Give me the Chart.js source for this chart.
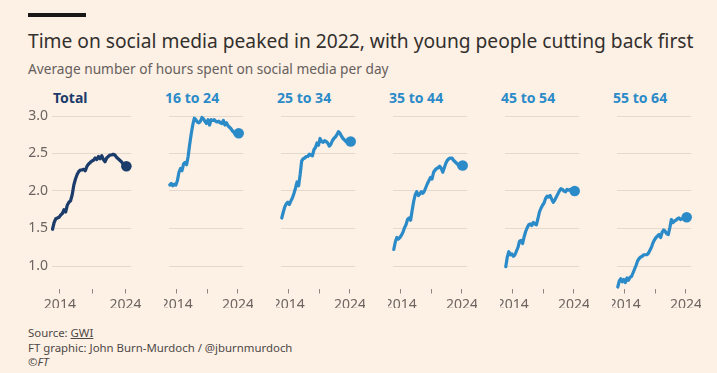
<!DOCTYPE html>
<html>
<head>
<meta charset="utf-8">
<script src="https://cdn.jsdelivr.net/npm/chart.js@4.4.1/dist/chart.umd.min.js"></script>
<style>
  body { margin: 0; width: 717px; height: 373px; overflow: hidden; background: #fdf0e5; font-family: 'Noto Sans', sans-serif; color: #33302e; position: relative; }
  .abs { position: absolute; white-space: nowrap; line-height: 1; }
  .bar { left: 28px; top: 13px; width: 58px; height: 4px; background: #1a1817; }
  .title { left: 28px; top: 31px; font-size: 19.2px; color: #33302e; }
  .sub { left: 28px; top: 62px; font-size: 13.7px; color: #66605c; }
  .ptitle { top: 91px; font-size: 14px; font-weight: 700; }
  .foot { left: 28px; font-size: 11.4px; color: #4d4845; }
  canvas { position: absolute; }
</style>
</head>
<body>
<div class="abs bar"></div>
<div class="abs title">Time on social media peaked in 2022, with young people cutting back first</div>
<div class="abs sub">Average number of hours spent on social media per day</div>
<div class="abs foot" style="top:327px">Source: <u>GWI</u></div>
<div class="abs foot" style="top:342px">FT graphic: John Burn-Murdoch / @jburnmurdoch</div>
<div class="abs foot" style="top:356px">©<i>FT</i></div>
<script>
// quarterly readings, Q4 2012 .. Q1 2024 (mid-quarter positions)
const quarters = [];
for (let k = 0; k < 46; k++) quarters.push(2012.875 + k * 0.25);

const groups = ['Total', '16 to 24', '25 to 34', '35 to 44', '45 to 54', '55 to 64'];

const total = [1.49,1.58,1.63,1.64,1.65,1.68,1.70,1.75,1.72,1.81,1.85,1.87,1.95,2.08,2.16,2.22,
  2.26,2.28,2.28,2.29,2.27,2.33,2.36,2.38,2.40,2.41,2.44,2.42,2.46,2.43,2.47,2.42,
  2.39,2.44,2.46,2.48,2.48,2.49,2.48,2.45,2.43,2.41,2.39,2.36,2.33,2.33];
const age16to24 = [2.08,2.10,2.07,2.09,2.08,2.14,2.25,2.30,2.27,2.36,2.38,2.35,2.46,2.62,2.76,2.88,
  2.97,2.95,2.92,2.91,2.93,2.98,2.96,2.93,2.90,2.95,2.88,2.95,2.94,2.95,2.93,2.92,
  2.93,2.91,2.90,2.94,2.88,2.91,2.87,2.85,2.83,2.80,2.78,2.75,2.76,2.77];
const age25to34 = [1.64,1.72,1.79,1.83,1.85,1.82,1.87,1.91,1.97,2.04,2.12,2.07,2.22,2.40,2.43,2.44,
  2.46,2.46,2.49,2.48,2.47,2.55,2.58,2.64,2.61,2.70,2.66,2.65,2.67,2.66,2.64,2.60,
  2.62,2.67,2.70,2.72,2.75,2.79,2.77,2.73,2.70,2.68,2.66,2.65,2.66,2.66];
const age35to44 = [1.22,1.32,1.38,1.36,1.38,1.41,1.45,1.51,1.55,1.62,1.64,1.61,1.74,1.86,1.95,1.99,
  1.94,1.96,1.99,1.97,2.00,2.05,2.10,2.14,2.18,2.16,2.25,2.28,2.30,2.31,2.33,2.30,
  2.25,2.31,2.37,2.41,2.43,2.44,2.44,2.41,2.39,2.37,2.35,2.31,2.33,2.34];
const age45to54 = [0.99,1.12,1.19,1.15,1.16,1.13,1.15,1.20,1.25,1.33,1.34,1.30,1.39,1.46,1.51,1.55,
  1.56,1.54,1.58,1.56,1.55,1.63,1.72,1.77,1.81,1.84,1.90,1.93,1.92,1.94,1.89,1.85,
  1.88,1.92,1.96,2.00,2.03,2.02,2.00,1.99,2.02,2.01,2.02,2.00,1.99,2.00];
const age55to64 = [0.72,0.80,0.83,0.79,0.82,0.78,0.84,0.81,0.85,0.86,0.91,0.96,1.01,1.07,1.10,1.12,
  1.13,1.15,1.15,1.15,1.17,1.21,1.25,1.31,1.35,1.38,1.40,1.42,1.38,1.45,1.48,1.46,
  1.43,1.42,1.51,1.62,1.58,1.60,1.61,1.63,1.64,1.62,1.63,1.64,1.65,1.65];

const series = [total, age16to24, age25to34, age35to44, age45to54, age55to64];
const yTicks = [1.0, 1.5, 2.0, 2.5, 3.0];
const xTicks = [2014, 2019, 2024];
const xLabels = [2014, 2024];

const NAVY = '#1b3c6b', BLUE = '#2b8bc8';
const PANEL_LEFT = [52, 164, 276, 388, 500, 612];
const AREA_W = 79, TOP = 108, H = 200, PAD_TOP = 8, AREA_H = 172.5;
const FONT = 'Noto Sans';

series.forEach((vals, i) => {
    const first = i === 0;
    const col = first ? NAVY : BLUE;
    const yw = first ? 52 : 0;

    const t = document.createElement('div');
    t.className = 'abs ptitle';
    t.style.left = (PANEL_LEFT[i] + 1) + 'px';
    t.style.color = col;
    t.textContent = groups[i];
    document.body.appendChild(t);

    const c = document.createElement('canvas');
    c.width = yw + AREA_W + 10;
    c.height = H;
    c.style.left = (PANEL_LEFT[i] - yw) + 'px';
    c.style.top = TOP + 'px';
    document.body.appendChild(c);

    const last = vals.length - 1;
    new Chart(c, {
        type: 'line',
        data: {
            datasets: [{
                data: quarters.map((q, k) => ({ x: q, y: vals[k] })),
                borderColor: col, backgroundColor: col, borderWidth: 3.2,
                borderJoinStyle: 'round', borderCapStyle: 'round', tension: 0,
                pointRadius: ctx => ctx.dataIndex === last ? 5.3 : 0,
                pointBorderWidth: 0, clip: false
            }]
        },
        options: {
            responsive: false, animation: false, events: [],
            layout: { padding: { top: PAD_TOP, right: 10, left: 0, bottom: 0 } },
            plugins: { legend: { display: false }, tooltip: { enabled: false } },
            scales: {
                x: {
                    type: 'linear', min: 2012.8, max: 2024.83,
                    afterBuildTicks: s => { s.ticks = xTicks.map(v => ({ value: v })); },
                    afterFit: s => { s.height = H - PAD_TOP - AREA_H; s.paddingLeft = 0; s.paddingRight = 0; },
                    grid: { drawOnChartArea: false, tickLength: 5, tickColor: '#8f8680', tickWidth: 1 },
                    border: { display: false },
                    ticks: { padding: 3, maxRotation: 0, autoSkip: false, color: '#6b6460', font: { size: 14, family: FONT },
                             callback: v => xLabels.includes(v) ? String(v) : '' }
                },
                y: {
                    min: 0.7, max: 3.0,
                    afterBuildTicks: s => { s.ticks = yTicks.map(v => ({ value: v })); },
                    afterFit: s => { s.width = yw; s.paddingTop = 0; s.paddingBottom = 0; },
                    grid: { color: '#e5d8cc', lineWidth: 1, drawTicks: false },
                    border: { display: false },
                    ticks: { display: first, padding: 4, color: '#6b6460', font: { size: 14, family: FONT },
                             callback: v => v.toFixed(1) }
                }
            }
        }
    });
});
</script>
</body>
</html>
